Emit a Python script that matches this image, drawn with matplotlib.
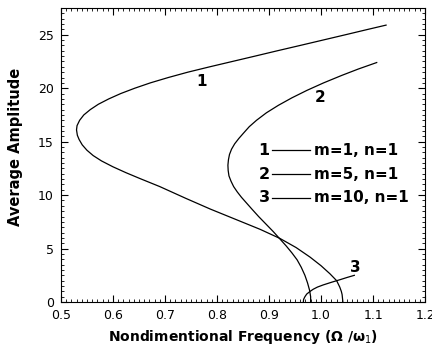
import numpy as np
import matplotlib
matplotlib.use("Agg")
import matplotlib.pyplot as plt
from matplotlib.ticker import MultipleLocator

# Data
# curve 1 : m=1, n=1  (frequency, average amplitude)
freq1 = [1.125, 1.090, 1.047, 1.0035, 0.960, 0.916, 0.873, 0.8295, 0.786, 0.744,
         0.7065, 0.672, 0.642, 0.615, 0.592, 0.572, 0.5565, 0.544, 0.536, 0.531,
         0.530, 0.5316, 0.535, 0.541, 0.550, 0.562, 0.578, 0.600, 0.625, 0.652,
         0.690, 0.740, 0.787, 0.835, 0.883, 0.921, 0.952, 0.979, 1.000, 1.017,
         1.030, 1.036, 1.039, 1.0405, 1.042]
amp1 = [25.9, 25.5, 25.0, 24.5, 24.0, 23.5, 23.0, 22.5, 22.0, 21.5,
        21.0, 20.5, 20.0, 19.5, 19.0, 18.5, 18.0, 17.5, 17.0, 16.5,
        16.1, 15.6, 15.2, 14.7, 14.2, 13.7, 13.2, 12.65, 12.1, 11.55,
        10.8, 9.7, 8.7, 7.75, 6.8, 5.95, 5.1, 4.2, 3.4, 2.65,
        2.0, 1.4, 1.0, 0.7, 0.0]
# curve 2 : m=5, n=1
freq2 = [1.107, 1.072, 1.040, 1.005, 0.973, 0.944, 0.918, 0.895, 0.876, 0.862,
         0.851, 0.842, 0.834, 0.828, 0.824, 0.822, 0.821, 0.8215, 0.823, 0.827,
         0.832, 0.839, 0.847, 0.857, 0.867, 0.880, 0.894, 0.908, 0.921, 0.933,
         0.944, 0.954, 0.962, 0.969, 0.974, 0.978, 0.980, 0.980]
amp2 = [22.4, 21.8, 21.2, 20.5, 19.8, 19.1, 18.4, 17.7, 17.0, 16.4,
        15.8, 15.3, 14.8, 14.3, 13.8, 13.3, 12.8, 12.3, 11.8, 11.3,
        10.8, 10.3, 9.8, 9.25, 8.7, 8.0, 7.3, 6.6, 5.9, 5.25,
        4.6, 3.95, 3.25, 2.5, 1.8, 1.1, 0.5, 0.0]
# curve 3 : m=10, n=1
freq3 = [0.966, 0.9665, 0.969, 0.9725, 0.979, 0.985, 0.993, 1.004, 1.020, 1.037,
         1.050, 1.064]
amp3 = [0.0, 0.25, 0.5, 0.75, 1.0, 1.2, 1.4, 1.6, 1.85, 2.1, 2.3, 2.5]

curve_ids = ['1', '2', '3']
curve_names = ['m=1, n=1', 'm=5, n=1', 'm=10, n=1']
label_pos = [(0.771, 20.6), (0.998, 19.1), (1.065, 3.2)]

fig = plt.figure(figsize=(4.32, 3.48), dpi=100)
ax = fig.add_axes([0.141, 0.132, 0.843, 0.845])

for fx, ay in [(freq1, amp1), (freq2, amp2), (freq3, amp3)]:
    ax.plot(fx, ay, color='black', lw=0.9)

# curve numbers
for cid, (lx, ly) in zip(curve_ids, label_pos):
    ax.text(lx, ly, cid, fontsize=11, fontweight='bold', ha='center', va='center')

# hand made legend
rows = [0.517, 0.435, 0.354]
for cid, name, ry in zip(curve_ids, curve_names, rows):
    ax.text(0.558, ry, cid, transform=ax.transAxes, fontsize=11.5,
            fontweight='bold', ha='center', va='center')
    ax.plot([0.580, 0.684], [ry, ry], transform=ax.transAxes, color='black', lw=0.9)
    ax.text(0.694, ry, name, transform=ax.transAxes, fontsize=11,
            fontweight='bold', ha='left', va='center')

ax.set_xlim(0.5, 1.2)
ax.set_ylim(0, 27.5)
ax.xaxis.set_minor_locator(MultipleLocator(0.01))
ax.yaxis.set_major_locator(MultipleLocator(5))
ax.yaxis.set_minor_locator(MultipleLocator(0.5))
ax.tick_params(which='both', direction='in', top=True, right=True, labelsize=9)
ax.tick_params(which='major', length=5, pad=5)
ax.tick_params(which='minor', length=2.5)
ax.set_xticks(np.arange(0.5, 1.21, 0.1))
ax.set_xticklabels(['0.5', '0.6', '0.7', '0.8', '0.9', '1.0', '1.1', '1.2'])

ax.set_xlabel('Nondimentional Frequency (\u03a9 /\u03c9$_1$)', fontsize=10,
              fontweight='bold', labelpad=4)
ax.set_ylabel('Average Amplitude', fontsize=10.5, fontweight='bold')
ax.yaxis.set_label_coords(-0.105, 0.527)

fig.savefig('out.png', dpi=100)
